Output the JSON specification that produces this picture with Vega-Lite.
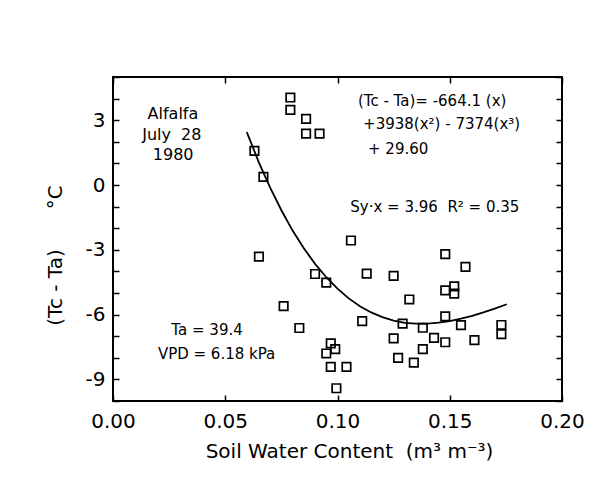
{
  "$schema": "https://vega.github.io/schema/vega-lite/v6.json",
  "width": 449,
  "height": 324,
  "autosize": {"type": "none"},
  "padding": {"left": 113, "top": 77, "right": 49, "bottom": 77},
  "background": "white",
  "config": {
    "view": {"stroke": "black", "strokeWidth": 2},
    "font": "DejaVu Sans",
    "text": {"font": "DejaVu Sans", "color": "black"}
  },
  "datasets": {
    "points": [
      {"swc": 0.079, "dt": 4.05}, {"swc": 0.079, "dt": 3.48}, {"swc": 0.086, "dt": 3.06},
      {"swc": 0.086, "dt": 2.38}, {"swc": 0.092, "dt": 2.38}, {"swc": 0.063, "dt": 1.58},
      {"swc": 0.067, "dt": 0.38}, {"swc": 0.065, "dt": -3.32}, {"swc": 0.106, "dt": -2.57},
      {"swc": 0.090, "dt": -4.12}, {"swc": 0.095, "dt": -4.52}, {"swc": 0.113, "dt": -4.10},
      {"swc": 0.125, "dt": -4.21}, {"swc": 0.148, "dt": -3.20}, {"swc": 0.157, "dt": -3.79},
      {"swc": 0.148, "dt": -4.88}, {"swc": 0.152, "dt": -4.69}, {"swc": 0.152, "dt": -5.03},
      {"swc": 0.132, "dt": -5.30}, {"swc": 0.076, "dt": -5.61}, {"swc": 0.083, "dt": -6.62},
      {"swc": 0.111, "dt": -6.30}, {"swc": 0.129, "dt": -6.42}, {"swc": 0.148, "dt": -6.08},
      {"swc": 0.138, "dt": -6.61}, {"swc": 0.155, "dt": -6.49}, {"swc": 0.173, "dt": -6.48},
      {"swc": 0.173, "dt": -6.90}, {"swc": 0.125, "dt": -7.10}, {"swc": 0.143, "dt": -7.08},
      {"swc": 0.148, "dt": -7.28}, {"swc": 0.161, "dt": -7.18}, {"swc": 0.138, "dt": -7.60},
      {"swc": 0.097, "dt": -7.33}, {"swc": 0.099, "dt": -7.60}, {"swc": 0.095, "dt": -7.80},
      {"swc": 0.127, "dt": -8.00}, {"swc": 0.134, "dt": -8.22}, {"swc": 0.097, "dt": -8.42},
      {"swc": 0.104, "dt": -8.42}, {"swc": 0.0995, "dt": -9.41}
    ],
    "curve": [
      {"swc": 0.0596, "dt": 2.45}, {"swc": 0.065, "dt": 1.04}, {"swc": 0.070, "dt": -0.12},
      {"swc": 0.075, "dt": -1.17}, {"swc": 0.080, "dt": -2.11}, {"swc": 0.085, "dt": -2.93},
      {"swc": 0.090, "dt": -3.65}, {"swc": 0.095, "dt": -4.27}, {"swc": 0.100, "dt": -4.80},
      {"swc": 0.105, "dt": -5.25}, {"swc": 0.110, "dt": -5.61}, {"swc": 0.115, "dt": -5.90},
      {"swc": 0.120, "dt": -6.12}, {"swc": 0.125, "dt": -6.28}, {"swc": 0.130, "dt": -6.38},
      {"swc": 0.135, "dt": -6.42}, {"swc": 0.140, "dt": -6.42}, {"swc": 0.145, "dt": -6.37},
      {"swc": 0.150, "dt": -6.30}, {"swc": 0.155, "dt": -6.19}, {"swc": 0.160, "dt": -6.06},
      {"swc": 0.165, "dt": -5.90}, {"swc": 0.170, "dt": -5.72}, {"swc": 0.1754, "dt": -5.52}
    ],
    "centerNotes": [
      {"swc": 0.0267, "dt": 3.28, "label": "Alfalfa"},
      {"swc": 0.0262, "dt": 2.32, "label": "July\u00a0\u00a028"},
      {"swc": 0.0268, "dt": 1.40, "label": "1980"}
    ],
    "leftNotes": [
      {"swc": 0.1091, "dt": 3.89, "label": "(Tc - Ta)= -664.1 (x)"},
      {"swc": 0.1114, "dt": 2.81, "label": "+3938(x²) - 7374(x³)"},
      {"swc": 0.1136, "dt": 1.66, "label": "+ 29.60"},
      {"swc": 0.1057, "dt": -1.03, "label": "Sy·x = 3.96\u00a0\u00a0R² = 0.35"},
      {"swc": 0.0260, "dt": -6.72, "label": "Ta = 39.4"},
      {"swc": 0.0200, "dt": -7.83, "label": "VPD = 6.18 kPa"}
    ]
  },
  "layer": [
    {
      "data": {"name": "points"},
      "mark": {"type": "point", "shape": "square", "filled": false, "size": 72, "stroke": "black", "strokeWidth": 1.7, "opacity": 1},
      "encoding": {
        "x": {
          "field": "swc", "type": "quantitative",
          "scale": {"domain": [0, 0.2], "nice": false, "zero": false},
          "axis": {
            "orient": "bottom", "values": [0, 0.05, 0.1, 0.15, 0.2], "format": ".2f",
            "domain": false, "grid": false, "tickSize": -6, "tickColor": "black", "tickWidth": 1.5,
            "labelFontSize": 20, "labelColor": "black", "labelFont": "DejaVu Sans", "labelPadding": 16,
            "labelFlush": false, "labelOverlap": false,
            "title": "Soil Water Content\u00a0\u00a0(m³ m⁻³)", "titleFont": "DejaVu Sans", "titleFontSize": 20,
            "titleFontWeight": "normal", "titleColor": "black", "titleX": 236, "titleY": 50, "titleBaseline": "middle"
          }
        },
        "y": {
          "field": "dt", "type": "quantitative",
          "scale": {"domain": [-10, 5], "nice": false, "zero": false},
          "axis": {
            "orient": "left", "values": [-10, -9, -8, -7, -6, -5, -4, -3, -2, -1, 0, 1, 2, 3, 4, 5],
            "labelExpr": "datum.value % 3 == 0 ? '' + datum.value : ''",
            "domain": false, "grid": false, "tickSize": -6, "tickColor": "black", "tickWidth": 1.5,
            "labelFontSize": 20, "labelColor": "black", "labelFont": "DejaVu Sans", "labelPadding": 14,
            "labelFlush": false, "labelOverlap": false,
            "title": "(Tc - Ta)\u2003\u2003°C", "titleFont": "DejaVu Sans", "titleFontSize": 20,
            "titleFontWeight": "normal", "titleColor": "black", "titleX": -58, "titleY": 178,
            "titleBaseline": "middle", "titleAngle": 270
          }
        }
      }
    },
    {
      "data": {"name": "curve"},
      "mark": {"type": "line", "color": "black", "strokeWidth": 1.8},
      "encoding": {
        "x": {
          "field": "swc", "type": "quantitative",
          "axis": {"orient": "top", "values": [0, 0.05, 0.1, 0.15, 0.2], "labels": false, "title": null,
                   "domain": false, "grid": false, "tickSize": -6, "tickColor": "black", "tickWidth": 1.5}
        },
        "y": {
          "field": "dt", "type": "quantitative",
          "axis": {"orient": "right", "values": [-10, -9, -8, -7, -6, -5, -4, -3, -2, -1, 0, 1, 2, 3, 4, 5],
                   "labels": false, "title": null, "domain": false, "grid": false,
                   "tickSize": -6, "tickColor": "black", "tickWidth": 1.5}
        }
      }
    },
    {
      "mark": {"type": "rule", "color": "black", "strokeWidth": 1.8},
      "encoding": {"y": {"datum": 0, "type": "quantitative", "axis": null}}
    },
    {
      "data": {"name": "centerNotes"},
      "mark": {"type": "text", "align": "center", "baseline": "middle", "fontSize": 16, "font": "DejaVu Sans", "color": "black"},
      "encoding": {
        "x": {"field": "swc", "type": "quantitative", "axis": null},
        "y": {"field": "dt", "type": "quantitative", "axis": null},
        "text": {"field": "label"}
      }
    },
    {
      "data": {"name": "leftNotes"},
      "mark": {"type": "text", "align": "left", "baseline": "middle", "fontSize": 15, "font": "DejaVu Sans", "color": "black"},
      "encoding": {
        "x": {"field": "swc", "type": "quantitative", "axis": null},
        "y": {"field": "dt", "type": "quantitative", "axis": null},
        "text": {"field": "label"}
      }
    }
  ],
  "resolve": {"axis": {"x": "independent", "y": "independent"}}
}
